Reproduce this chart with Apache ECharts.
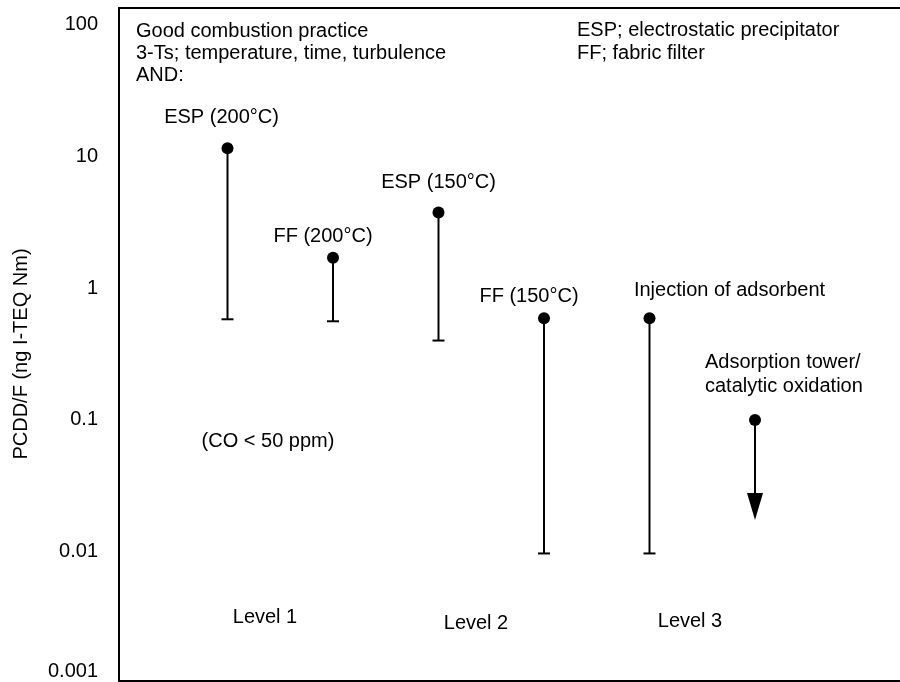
<!DOCTYPE html>
<html>
<head>
<meta charset="utf-8">
<script src="https://cdn.jsdelivr.net/npm/echarts@6/dist/echarts.min.js"></script>
<style>
  html, body { margin: 0; padding: 0; background: #fff; }
  #main { width: 900px; height: 682px; }
</style>
</head>
<body>
<div id="main"></div>
<script>
// 各工艺名称、横向位置
const techniques = ['ESP (200°C)', 'FF (200°C)', 'ESP (150°C)', 'FF (150°C)', 'Injection of adsorbent', 'Adsorption tower/\ncatalytic oxidation']
const positions = [1, 2, 3, 4, 5, 6]
// 排放范围 上限(圆点) / 下限
const upperValues = [11.5, 1.7, 3.75, 0.59, 0.59, 0.1]
const lowerValues = [0.58, 0.56, 0.4, 0.0097, 0.0097, 0.0174]
// 下端样式: 横线 or 箭头(低于)
const lowerKinds = ['bar', 'bar', 'bar', 'bar', 'bar', 'arrow']
// y 轴刻度
const yTicks = [0.001, 0.01, 0.1, 1, 10, 100]
const levelNames = ['Level 1', 'Level 2', 'Level 3']
const notesLeft = ['Good combustion practice', '3-Ts; temperature, time, turbulence', 'AND:']
const notesRight = ['ESP; electrostatic precipitator', 'FF; fabric filter']
const coNote = '(CO < 50 ppm)'
const yName = 'PCDD/F (ng I-TEQ Nm)'

// 标签相对圆点的偏移
const labelOffsets = [[-6, -31], [-10, -21], [0, -30], [-15, -22], [80, -28], [-50, -45]]

const FONT = '"Liberation Sans", Arial, sans-serif'
const frameLine = { show: true, lineStyle: { color: '#000', width: 2 } }

const chart = echarts.init(document.getElementById('main'))

// 竖线 + 下端横线/箭头
function renderRange(params, api) {
  const top = api.coord([api.value(0), api.value(1)])
  const bottom = api.coord([api.value(0), api.value(2)])
  const line = { stroke: '#000', lineWidth: 2 }
  if (lowerKinds[params.dataIndex] === 'arrow') {
    const headH = 27
    const headW = 8
    return {
      type: 'group',
      children: [
        { type: 'line', shape: { x1: top[0], y1: top[1], x2: bottom[0], y2: bottom[1] - headH }, style: line },
        {
          type: 'polygon',
          shape: { points: [[bottom[0] - headW, bottom[1] - headH], [bottom[0] + headW, bottom[1] - headH], [bottom[0], bottom[1]]] },
          style: { fill: '#000' }
        }
      ]
    }
  }
  return {
    type: 'group',
    children: [
      { type: 'line', shape: { x1: top[0], y1: top[1], x2: bottom[0], y2: bottom[1] }, style: line },
      { type: 'line', shape: { x1: bottom[0] - 6, y1: bottom[1], x2: bottom[0] + 6, y2: bottom[1] }, style: line }
    ]
  }
}

function textEl(text, x, y, align, lineHeight) {
  return {
    type: 'text',
    x: x,
    y: y,
    silent: true,
    style: {
      text: text,
      fill: '#000',
      font: '20px ' + FONT,
      align: align,
      verticalAlign: 'middle',
      lineHeight: lineHeight || 23
    }
  }
}

chart.setOption({
  animation: false,
  backgroundColor: '#fff',
  textStyle: { fontFamily: FONT },
  grid: [
    // 外框: 左、上、下三条线 (右侧在画布外)
    { left: 119, top: 8, width: 800, height: 673, outerBoundsMode: 'none' },
    // 数据区
    { left: 122, top: 24.5, width: 844, height: 659, outerBoundsMode: 'none' }
  ],
  xAxis: [
    { gridIndex: 0, type: 'value', min: 0, max: 1, position: 'bottom', axisLine: frameLine, axisTick: { show: false }, axisLabel: { show: false }, splitLine: { show: false } },
    { gridIndex: 1, type: 'value', show: false, min: 0, max: 8 },
    { gridIndex: 0, type: 'value', min: 0, max: 1, position: 'top', axisLine: frameLine, axisTick: { show: false }, axisLabel: { show: false }, splitLine: { show: false } }
  ],
  yAxis: [
    { gridIndex: 0, type: 'value', min: 0, max: 1, position: 'left', axisLine: frameLine, axisTick: { show: false }, axisLabel: { show: false }, splitLine: { show: false } },
    {
      gridIndex: 1,
      type: 'log',
      logBase: 10,
      min: yTicks[0],
      max: yTicks[yTicks.length - 1],
      name: yName,
      nameLocation: 'middle',
      nameGap: 91,
      nameTextStyle: { fontSize: 20, color: '#000', fontFamily: FONT },
      axisLine: { show: false },
      axisTick: { show: false },
      splitLine: { show: false },
      axisLabel: {
        margin: 24,
        fontSize: 20,
        color: '#000',
        fontFamily: FONT,
        showMinLabel: true,
        showMaxLabel: true,
        formatter: function (v) {
          // 取最近的刻度值
          let best = yTicks[0]
          yTicks.forEach(function (t) {
            if (Math.abs(Math.log10(t) - Math.log10(v)) < Math.abs(Math.log10(best) - Math.log10(v))) best = t
          })
          return best === yTicks[0] ? '{low|' + String(best) + '}' : String(best)
        },
        rich: {
          low: { fontSize: 20, fontFamily: FONT, color: '#000', padding: [0, 0, 24, 0] }
        }
      }
    }
  ],
  graphic: [
    textEl(notesLeft.join('\n'), 136, 53.5, 'left', 22),
    textEl(notesRight.join('\n'), 577, 42, 'left', 23),
    textEl(coNote, 268, 441, 'center'),
    textEl(levelNames[0], 265, 617, 'center'),
    textEl(levelNames[1], 476, 623, 'center'),
    textEl(levelNames[2], 690, 621, 'center')
  ],
  series: [
    {
      type: 'custom',
      xAxisIndex: 1,
      yAxisIndex: 1,
      renderItem: renderRange,
      data: positions.map(function (x, i) { return [x, upperValues[i], lowerValues[i]] }),
      silent: true,
      z: 2
    },
    {
      type: 'scatter',
      xAxisIndex: 1,
      yAxisIndex: 1,
      symbol: 'circle',
      symbolSize: 12,
      itemStyle: { color: '#000', opacity: 1 },
      silent: true,
      z: 3,
      data: positions.map(function (x, i) {
        return {
          value: [x, upperValues[i]],
          label: {
            show: true,
            position: 'inside',
            formatter: techniques[i],
            offset: labelOffsets[i],
            align: i === 5 ? 'left' : 'center',
            verticalAlign: 'middle',
            lineHeight: 24,
            fontSize: 20,
            fontFamily: FONT,
            color: '#000',
            opacity: 1
          }
        }
      })
    }
  ]
})
</script>
</body>
</html>
